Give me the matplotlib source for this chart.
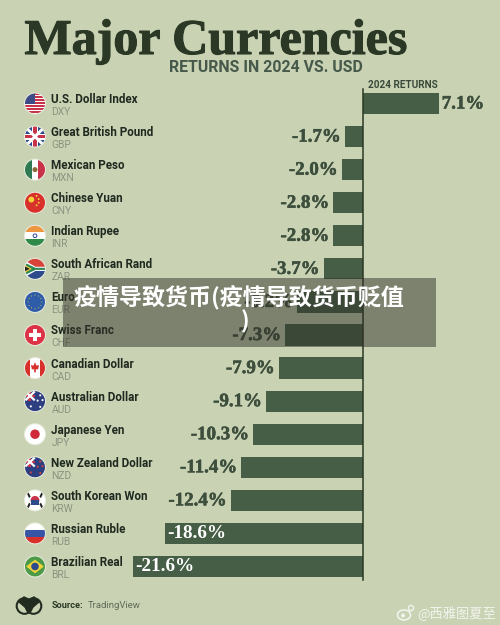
import matplotlib

matplotlib.use("Agg")

import matplotlib.patheffects as pe
import matplotlib.pyplot as plt
from matplotlib.patches import Circle, Ellipse, Polygon, Rectangle

names = ["U.S. Dollar Index", "Great British Pound", "Mexican Peso", "Chinese Yuan",
         "Indian Rupee", "South African Rand", "Euro", "Swiss Franc", "Canadian Dollar",
         "Australian Dollar", "Japanese Yen", "New Zealand Dollar", "South Korean Won",
         "Russian Ruble", "Brazilian Real"]
codes = ["DXY", "GBP", "MXN", "CNY", "INR", "ZAR", "EUR", "CHF", "CAD", "AUD", "JPY",
         "NZD", "KRW", "RUB", "BRL"]
returns = [7.1, -1.7, -2.0, -2.8, -2.8, -3.7, -6.2, -7.3, -7.9, -9.1, -10.3, -11.4,
           -12.4, -18.6, -21.6]

BG = "#c9d3b4"
BAR = "#465e45"
DARK = "#2a3825"
SERIF = "Liberation Serif"
SANS = "Roboto"
ROW0, STEP = 103.5, 33.07
ZERO_X, PX_PER_PCT = 363, 10.67

fig = plt.figure(figsize=(5, 6.25), dpi=100, facecolor=BG)

# bars live in percent units, everything else in pixel coords
ax = fig.add_axes([0, 0, 1, 1])
ax.set_xlim(-ZERO_X / PX_PER_PCT, (500 - ZERO_X) / PX_PER_PCT)
ax.set_ylim((625 - ROW0) / STEP, -ROW0 / STEP)
ax.axis("off")
ax.barh(range(len(returns)), returns, height=0.64, color=BAR, zorder=2)

px = fig.add_axes([0, 0, 1, 1], facecolor="none")
px.set_xlim(0, 500)
px.set_ylim(625, 0)
px.axis("off")

px.plot([363, 363], [89, 580], color=DARK, lw=1.1, zorder=3)
px.text(24.5, 54, "Major Currencies", family=SERIF, weight="bold", fontsize=36,
        color=DARK, va="baseline", ha="left",
        path_effects=[pe.withStroke(linewidth=0.8, foreground=DARK)])
px.text(169, 67.5, "RETURNS IN 2024 VS. USD", family=SANS, weight="bold", fontsize=11.4,
        color="#46594a", va="center", ha="left")
px.text(368, 85.5, "2024 RETURNS", family=SANS, weight="bold", fontsize=7.2,
        color="#3a4a3a", va="center", ha="left")


def flag(cx, cy, kind, r=10.5):
    clip = Circle((cx, cy), r, transform=px.transData)

    def add(p):
        p.set_clip_path(clip)
        px.add_patch(p)

    def rect(x0, y0, x1, y1, c):
        add(Rectangle((cx + x0 * r, cy + y0 * r), (x1 - x0) * r, (y1 - y0) * r, color=c, lw=0, zorder=4))

    def disc(x, y, rad, c):
        add(Circle((cx + x * r, cy + y * r), rad * r, color=c, lw=0, zorder=5))

    def poly(pts, c, z=5):
        add(Polygon([(cx + a * r, cy + b * r) for a, b in pts], color=c, lw=0, zorder=z))

    rect(-1, -1, 1, 1, "white")
    if kind == "DXY":
        for k in range(7):
            rect(-1, -1 + k * 2 / 7, 1, -1 + k * 2 / 7 + 1 / 7, "#c8334a")
        rect(-1, -1, 0, 0, "#3c4a85")
    elif kind == "GBP":
        rect(-1, -1, 1, 1, "#2d4a8a")
        poly([(-1, -.8), (-.8, -1), (1, .8), (.8, 1)], "white")
        poly([(1, -.8), (.8, -1), (-1, .8), (-.8, 1)], "white")
        rect(-1, -.28, 1, .28, "white")
        rect(-.28, -1, .28, 1, "white")
        rect(-1, -.15, 1, .15, "#c8334a")
        rect(-.15, -1, .15, 1, "#c8334a")
    elif kind == "MXN":
        rect(-1, -1, -.33, 1, "#2f7a52")
        rect(.33, -1, 1, 1, "#c8334a")
        disc(0, 0, .24, "#8a6a3a")
    elif kind == "CNY":
        rect(-1, -1, 1, 1, "#d8312c")
        disc(-.35, -.3, .28, "#f2d43a")
        for x, y in [(.15, -.65), (.35, -.35), (.35, 0), (.15, .25)]:
            disc(x, y, .09, "#f2d43a")
    elif kind == "INR":
        rect(-1, -1, 1, -.33, "#ef9640")
        rect(-1, .33, 1, 1, "#2f8a4a")
        disc(0, 0, .22, "#2d3f8a")
        disc(0, 0, .13, "white")
    elif kind == "ZAR":
        rect(-1, -1, 1, 0, "#d8433a")
        rect(-1, 0, 1, 1, "#2d4a8a")
        poly([(-1, -.8), (.05, -.2), (1, -.2), (1, .2), (.05, .2), (-1, .8)], "white")
        poly([(-1, -.6), (.05, -.1), (1, -.1), (1, .1), (.05, .1), (-1, .6)], "#2f8a55", 6)
        poly([(-1, -.4), (-.3, 0), (-1, .4)], "#f2c83a", 7)
        poly([(-1, -.25), (-.5, 0), (-1, .25)], "#222222", 8)
    elif kind == "EUR":
        rect(-1, -1, 1, 1, "#2f5ca8")
        for x, y in [(0, -.65), (.33, -.56), (.56, -.33), (.65, 0), (.56, .33), (.33, .56),
                     (0, .65), (-.33, .56), (-.56, .33), (-.65, 0), (-.56, -.33), (-.33, -.56)]:
            disc(x, y, .05, "#d9c94a")
    elif kind == "CHF":
        rect(-1, -1, 1, 1, "#dc3446")
        rect(-.55, -.17, .55, .17, "white")
        rect(-.17, -.55, .17, .55, "white")
    elif kind == "CAD":
        rect(-1, -1, -.5, 1, "#d8312c")
        rect(.5, -1, 1, 1, "#d8312c")
        poly([(0, -.55), (.15, -.22), (.38, -.3), (.3, .12), (.08, .12), (.08, .4), (-.08, .4),
              (-.08, .12), (-.3, .12), (-.38, -.3), (-.15, -.22)], "#d8312c")
    elif kind in ("AUD", "NZD"):
        rect(-1, -1, 1, 1, "#2d3f80")
        poly([(-1, -.85), (-.85, -1), (.05, -.15), (-.1, 0)], "white")
        poly([(.05, -.85), (-.1, -1), (-1, -.15), (-.85, 0)], "white")
        rect(-1, -.62, 0, -.38, "#c8334a")
        rect(-.62, -1, -.38, 0, "#c8334a")
        star = "white" if kind == "AUD" else "#d8433a"
        for x, y in [(.5, -.55), (.25, -.05), (.72, -.1), (.5, .55), (-.4, .5)]:
            disc(x, y, .1, star)
    elif kind == "JPY":
        disc(0, 0, .45, "#d02a3a")
    elif kind == "KRW":
        disc(0, 0, .42, "#c8334a")
        add(Rectangle((cx - .42 * r, cy), .84 * r, .42 * r, color="#2d4a8a", lw=0, zorder=6))
        for x, y, a in [(-.62, -.55, 1), (.62, -.55, -1), (-.62, .55, -1), (.62, .55, 1)]:
            poly([(x - .2, y - .2 * a), (x - .05, y - .33 * a), (x + .2, y + .2 * a), (x + .05, y + .33 * a)], "#222222")
    elif kind == "RUB":
        rect(-1, -.33, 1, .33, "#3656a5")
        rect(-1, .33, 1, 1, "#d8312c")
    elif kind == "BRL":
        rect(-1, -1, 1, 1, "#4c9a48")
        poly([(-.85, 0), (0, -.65), (.85, 0), (0, .65)], "#f0d43a")
        disc(0, 0, .36, "#2d4a8a")
    # thin light rim like the sticker-style flags
    px.add_patch(Circle((cx, cy), r, fill=False, ec="#e8ecdd", lw=0.7, zorder=9))


for i, (name, code, val) in enumerate(zip(names, codes, returns)):
    y = ROW0 + i * STEP
    flag(35, y, code)
    px.text(51, y - 4, name, family=SANS, weight="bold", fontsize=8.4, color="#20291f",
            va="center", ha="left")
    px.text(51.5, y + 8.5, code, family=SANS, fontsize=7.4, color="#8b937f",
            va="center", ha="left")
    label = f"{val:.1f}%"
    end = ZERO_X + val * PX_PER_PCT
    stroke = [pe.withStroke(linewidth=0.4, foreground="#3d4f3c")]
    if val > 0:
        px.text(end + 3, y + 0.5, label, family=SERIF, weight="bold", fontsize=13.6,
                color="#3d4f3c", va="center", ha="left", path_effects=stroke)
    elif val < -15:
        px.text(end + 3, y + 0.5, label, family=SERIF, weight="bold", fontsize=13.8,
                color="white", va="center", ha="left", zorder=5)
    else:
        px.text(end - 4, y + 0.5, label, family=SERIF, weight="bold", fontsize=13.6,
                color="#3d4f3c", va="center", ha="right", path_effects=stroke)

# source line with a rough mask logo
px.add_patch(Circle((24.5, 606), 7.8, fill=False, ec="#222b20", lw=1.5))
px.add_patch(Circle((33.5, 606), 7.8, fill=False, ec="#222b20", lw=1.5))
px.add_patch(Polygon([(18, 602), (24, 596), (29, 600), (34, 596), (40, 602), (33, 608), (29, 612), (25, 608)],
                     color="#222b20", lw=0))
px.text(52, 605.5, "Source:", family=SANS, weight="bold", fontsize=6.6, color="#2a3825",
        va="center", ha="left")
px.text(88, 605.5, "TradingView", family=SANS, fontsize=6.8, color="#5f6a58", va="center", ha="left")

# weibo watermark
px.add_patch(Ellipse((404, 615), 13, 10, fill=False, ec="white", lw=1.2, alpha=0.75))
px.add_patch(Circle((403, 615.5), 2, color="white", lw=0, alpha=0.75))
px.add_patch(Circle((411, 608), 2.6, fill=False, ec="white", lw=1, alpha=0.75))
px.text(417, 613.5, "@西雅图夏至", family=["Noto Sans CJK SC", "DejaVu Sans"], fontsize=9.5,
        color="white", alpha=0.75, va="center", ha="left")

# caption band across the middle
px.add_patch(Rectangle((63, 278), 373, 69, color="#32322a", alpha=0.5, lw=0, zorder=20))
px.text(73, 297, "疫情导致货币(疫情导致货币贬值", family=["Noto Sans CJK SC", "DejaVu Sans"],
        weight="bold", fontsize=16.6, color="white", va="center", ha="left", zorder=21)
px.text(245, 322, ")", family=["Noto Sans CJK SC", "DejaVu Sans"], weight="bold", fontsize=16.6,
        color="white", va="center", ha="center", zorder=21)

fig.savefig("out.png", dpi=100)
